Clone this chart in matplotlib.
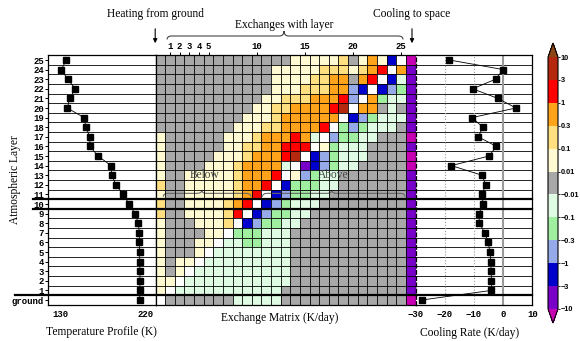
import numpy as np
import matplotlib
matplotlib.use('Agg')
import matplotlib.pyplot as plt
from matplotlib.colors import ListedColormap, BoundaryNorm
from matplotlib.cm import ScalarMappable
from matplotlib.lines import Line2D
from matplotlib.path import Path
from matplotlib.patches import PathPatch, FancyArrowPatch

plt.rcParams['font.family'] = ['Liberation Serif', 'DejaVu Serif']

# layers: index 0 = ground, then 1..25
layer_labels = ['ground'] + [str(i) for i in range(1, 26)]
temperature = [213.7, 214, 214, 214, 213.7, 213.7, 213.3, 213.3, 212.3, 208.8,
               202.5, 196.5, 188.8, 184.3, 183.6, 169.9, 161.5, 161.2, 157.3,
               155.2, 137.7, 140.2, 146.1, 138.1, 131.4, 136.6]
cooling_rate = [-27.8, -4.0, -4.0, -4.1, -4.2, -4.5, -5.1, -6.3, -8.1, -8.3,
                -6.8, -7.3, -5.9, -7.3, -17.7, -4.8, -2.3, -8.5, -6.9, -10.7,
                4.4, -1.8, -10.4, -2.6, 0.1, -18.4]

# exchange matrix (K/day), read as colour classes; W = self exchange (blank)
class_value = {'M': -20, 'P': -5, 'B': -2, 'L': -0.5, 'G': -0.2, 'g': -0.05,
               '.': 0.0, 'y': 0.05, 'o': 0.2, 'O': 0.5, 'R': 2, 'D': 5,
               'W': np.nan}
# columns: heating from ground, layers 1..25, cooling to space
exchange_rows = [
    'W.......ggggg.............M',  # ground
    'yWggggggggggg.............P',  # 1
    'yyWggggggggggg............P',
    'y.yWgggggggggg............P',
    'y.yyWggggggggg............P',
    'y...yWgggggggg............P',  # 5
    'y...yyWggGGggg............P',
    'y....yyWGGGggg............P',
    'y...yyyoWBLGGgg...........P',
    'o..yyyyoRWBLGGgg..........P',
    'o..yyyyoORWBLGggg.........P',  # 10
    'y..yyyyyoORWBLGGgg........P',
    'o..yyyyyoOORWBGGGgg.......P',
    'y..yyyyyoOOORWyLGgg.......P',
    'y....yyyoOOOOgWPBLGgg.....M',
    'y.....yyyoOOORDWBLGggg....M',  # 15
    'y......yyooOORRRWyGggg....P',
    'y......yyyoOOOROgWLGGgg...M',
    '........yyyooOOOORWGLGggg.P',
    '.........yyyoOOOOOOWBLGgggP',
    '..........yyooOOOORDWOO.g.P',  # 20
    '...........yyoooOOORLWOGggP',
    '............yyyoooOOLBWBLGP',
    '............yyyyooOO.ORWBgP',
    '............yyyyyoooyoORWOP',
    '..............yyyyyo.yOyBWM',  # 25
]
col_ticks = [1, 2, 3, 4, 5, 10, 15, 20, 25]

color_bounds = [-10, -3, -1, -0.3, -0.1, -0.01, 0.01, 0.1, 0.3, 1, 3, 10]
bound_labels = ['\u221210', '\u22123', '\u22121', '\u22120.3', '\u22120.1',
                '\u22120.01', '0.01', '0.1', '0.3', '1', '3', '10']
class_colors = ['#7800c8', '#0000cc', '#96aaea', '#a0eea0', '#e0fbe4',
                '#a8a8a8', '#fffad2', '#ffdf80', '#ffa31a', '#ff0000', '#b4280f']
under_color = '#c800b4'
over_color = '#8c4614'

W, H = 580, 341


def rect(x0, y0, x1, y1):
    return [x0 / W, 1 - y1 / H, (x1 - x0) / W, (y1 - y0) / H]


def fx(x):
    return x / W


def fy(y):
    return 1 - y / H


fig = plt.figure(figsize=(5.8, 3.41), dpi=100)
top, bot = 55.2, 304.8
ax_t = fig.add_axes(rect(48, top, 155.6, bot))
ax_m = fig.add_axes(rect(155.6, top, 415.5, bot))
ax_c = fig.add_axes(rect(415.5, top, 532.3, bot))
cax = fig.add_axes(rect(548, 43, 558, 323))

mono = dict(fontfamily='Liberation Mono', fontweight='bold', fontsize=6.5)
ylev = np.arange(len(layer_labels))

for ax in (ax_t, ax_m, ax_c):
    ax.set_ylim(-0.5, 25.5)
    for s in ax.spines.values():
        s.set_linewidth(0.9)

# temperature profile
ax_t.set_xlim(117.4, 230.4)
for y in np.arange(0.5, 25):
    ax_t.axhline(y, color='k', lw=0.6, zorder=1)
ax_t.plot(temperature, ylev, color='k', lw=0.6, marker='s', ms=3.8, zorder=3)
ax_t.set_yticks(ylev, layer_labels, **mono)
ax_t.set_xticks([130, 220], ['130', '220'], **mono)
ax_t.tick_params(axis='y', length=2.5, width=0.7, pad=0.5)
ax_t.tick_params(axis='x', length=0, pad=4)

# exchange matrix
cmap = ListedColormap(class_colors)
cmap.set_under(under_color)
cmap.set_over(over_color)
norm = BoundaryNorm(color_bounds, cmap.N)
vals = np.array([[class_value[ch] for ch in row] for row in exchange_rows])
ncol = vals.shape[1]
ax_m.pcolormesh(np.arange(-0.5, ncol), np.arange(-0.5, len(exchange_rows)),
                np.ma.masked_invalid(vals), cmap=cmap, norm=norm)
ax_m.vlines(np.arange(0.5, ncol - 1), -0.5, 25.5, color='k', lw=0.6)
ax_m.hlines(np.arange(0.5, 25), -0.5, ncol - 0.5, color='k', lw=0.6)
ax_m.set_xlim(-0.5, ncol - 0.5)
ax_m.set_yticks([])
ax_m.xaxis.tick_top()
ax_m.set_xticks(col_ticks, [str(c) for c in col_ticks], **mono)
ax_m.tick_params(axis='x', length=2.5, width=0.7, pad=0.5)


def brace(ax, x0, x1, xm, y_end, y_flat, y_peak, d=0.5, **kw):
    verts = [(x0, y_end), (x0, y_flat), (x0 + d, y_flat),
             (xm - d, y_flat), (xm, y_flat), (xm, y_peak),
             (xm, y_flat), (xm + d, y_flat),
             (x1 - d, y_flat), (x1, y_flat), (x1, y_end)]
    codes = [Path.MOVETO, Path.CURVE3, Path.CURVE3, Path.LINETO,
             Path.CURVE3, Path.CURVE3, Path.CURVE3, Path.CURVE3,
             Path.LINETO, Path.CURVE3, Path.CURVE3]
    ax.add_patch(PathPatch(Path(verts, codes), fill=False, **kw))


brace(ax_m, 0.69, 25.2, 12.84, 27.14, 27.5, 28.02, color='#444444', lw=0.8,
      clip_on=False)
ax_m.text(12.9, 28.6, 'Exchanges with layer', ha='center', va='center',
          fontsize=8.3, clip_on=False)
brace(ax_m, 0.3, 9.4, 4.3, 10.76, 11.11, 11.46, color='#666666', lw=0.8)
brace(ax_m, 10.6, 25.4, 17.8, 10.76, 11.11, 11.46, color='#666666', lw=0.8)
ax_m.text(4.6, 13, 'Below', ha='center', va='center', fontsize=8.3,
          color='#444444')
ax_m.text(17.9, 13, 'Above', ha='center', va='center', fontsize=8.3,
          color='#444444')

# cooling rate
ax_c.set_xlim(-30, 10)
for y in np.arange(0.5, 25):
    ax_c.axhline(y, color='k', lw=0.6, zorder=1)
ax_c.axvline(-20, color='#999999', lw=0.8, ls=':', zorder=1)
ax_c.axvline(-10, color='#999999', lw=0.8, ls=':', zorder=1)
ax_c.axvline(0, color='#999999', lw=1.5, zorder=1)
ax_c.plot(cooling_rate, ylev, color='k', lw=0.6, marker='s', ms=3.8, zorder=3)
ax_c.set_yticks([])
ax_c.set_xticks([-30, -20, -10, 0, 10],
                ['\u221230', '\u221220', '\u221210', '0', '10'], **mono)
ax_c.tick_params(axis='x', length=0, pad=4)
ax_c.spines['left'].set_linestyle((0, (3, 2)))

# colour bar
cb = fig.colorbar(ScalarMappable(norm=norm, cmap=cmap), cax=cax, extend='both',
                  extendfrac=0.056, ticks=color_bounds)
cb.outline.set_linewidth(0.8)
cax.set_yticklabels(bound_labels, fontfamily='Liberation Sans',
                    fontweight='bold', fontsize=5.3)
cax.tick_params(length=1.5, width=0.6, pad=0.5)

# thick separators across the whole chart
for ypx, xstart in ((199.2, 33), (208.8, 33), (295.2, 15)):
    fig.add_artist(Line2D([fx(xstart), fx(532.3)], [fy(ypx), fy(ypx)],
                          color='k', lw=1.6))

# headings and arrows
fig.text(fx(155.5), fy(14.5), 'Heating from ground', ha='center', va='center',
         fontsize=8.3)
fig.text(fx(412), fy(14.5), 'Cooling to space', ha='center', va='center',
         fontsize=8.3)
for xa in (155.2, 412):
    fig.add_artist(FancyArrowPatch((fx(xa), fy(26)), (fx(xa), fy(46)),
                                   transform=fig.transFigure, arrowstyle='-|>',
                                   mutation_scale=6, lw=0.8, color='k'))

fig.text(fx(15), fy(180), 'Atmospheric Layer', rotation=90, ha='center',
         va='center', fontsize=8.3)
fig.text(fx(101), fy(332), 'Temperature Profile (K)', ha='center',
         va='center', fontsize=8.3)
fig.text(fx(280), fy(318), 'Exchange Matrix (K/day)', ha='center',
         va='center', fontsize=8.3)
fig.text(fx(470), fy(333), 'Cooling Rate (K/day)', ha='center', va='center',
         fontsize=8.3)

fig.savefig('out.png', dpi=100)
